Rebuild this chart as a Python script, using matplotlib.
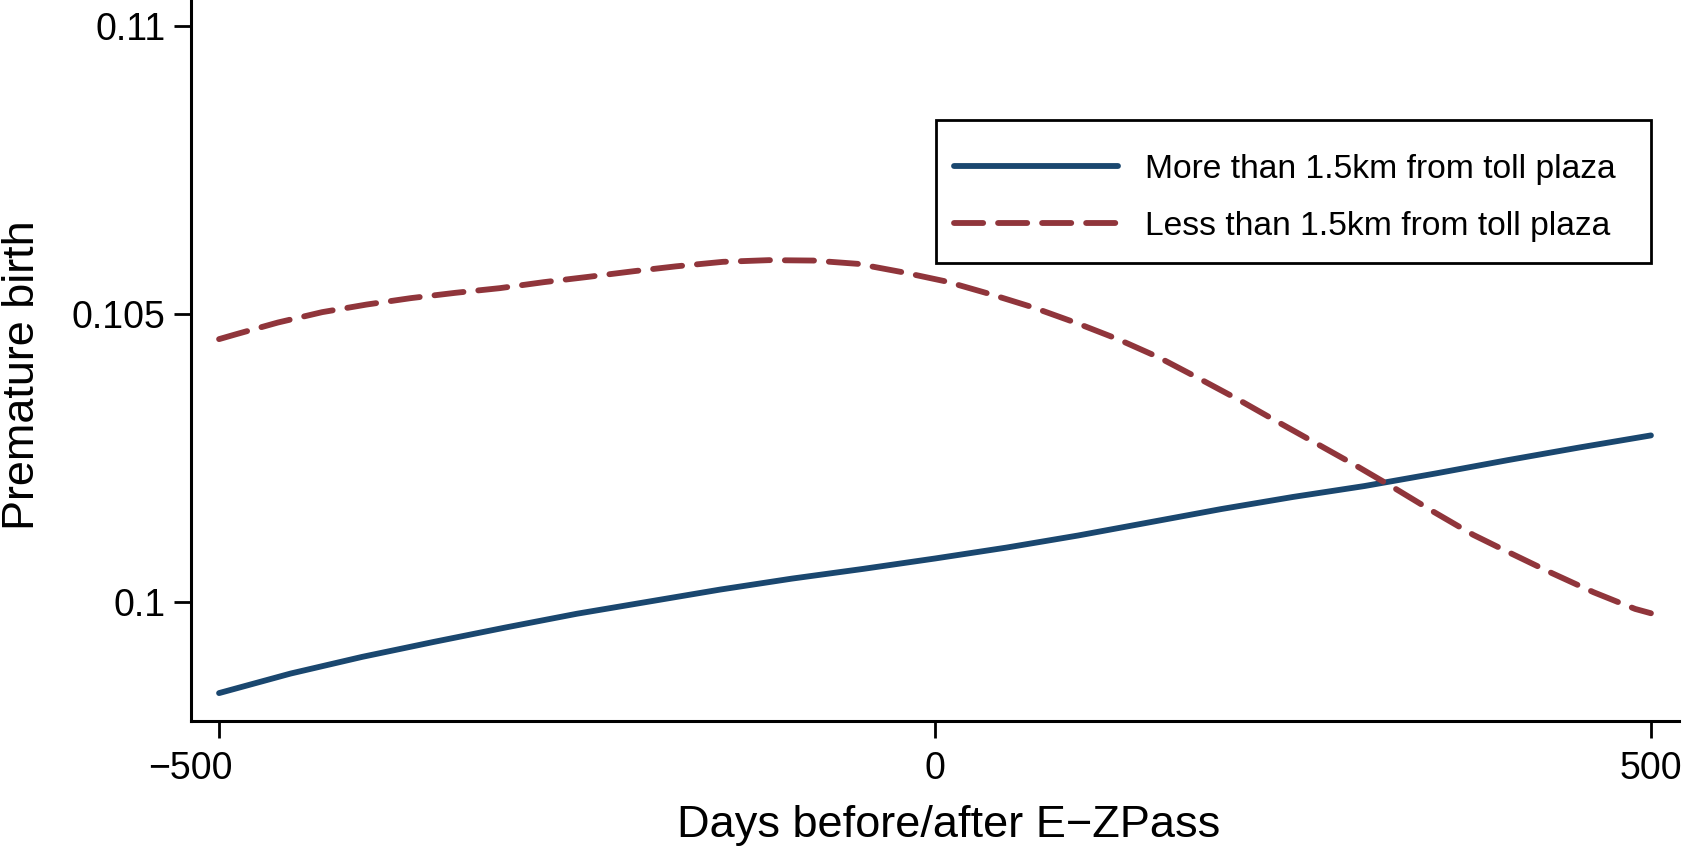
import matplotlib
matplotlib.use("Agg")
import matplotlib.pyplot as plt
from matplotlib.patches import Rectangle
from matplotlib.transforms import ScaledTranslation

plt.rcParams["font.family"] = ["Liberation Sans", "DejaVu Sans"]

# Premature birth rate by days relative to E-ZPass adoption
days_far = [-500, -450, -400, -350, -300, -250, -200, -150, -100, -50, 0,
            50, 100, 150, 200, 250, 300, 350, 400, 450, 500]
far = [0.09841, 0.09875, 0.09904, 0.09930, 0.09955, 0.09979, 0.10000,
       0.10021, 0.10040, 0.10057, 0.10075, 0.10094, 0.10115, 0.10138,
       0.10161, 0.10182, 0.10201, 0.10223, 0.10246, 0.10268, 0.10289]

days_near = [-500, -488, -459, -428, -397, -366, -335, -304, -273, -242,
             -210, -181, -148, -116, -85, -54, -23, 8, 38, 68, 98, 127,
             156, 184, 211, 239, 266, 294, 321, 348, 376, 403, 431, 460,
             489, 500]
near = [0.104564, 0.104650, 0.104852, 0.105033, 0.105165, 0.105277,
        0.105369, 0.105450, 0.105555, 0.105647, 0.105746, 0.105829,
        0.105908, 0.105937, 0.105930, 0.105873, 0.105729, 0.105565,
        0.105351, 0.105120, 0.104852, 0.104571, 0.104250, 0.103885,
        0.103525, 0.103130, 0.102755, 0.102365, 0.101972, 0.101565,
        0.101160, 0.100830, 0.100494, 0.100163, 0.099873, 0.099798]

series_labels = ["More than 1.5km from toll plaza",
                 "Less than 1.5km from toll plaza"]
x_ticks = [-500, 0, 500]
x_tick_labels = ["\u2212500", "0", "500"]
y_ticks = [0.1, 0.105, 0.11]
y_tick_labels = ["0.1", "0.105", "0.11"]

NAVY = "#1a476f"
MAROON = "#90353b"

W, H = 1685, 847
fig = plt.figure(figsize=(W / 100, H / 100), dpi=100)
ax = fig.add_axes([191 / W, 1 - 720.7 / H, (1679 - 191) / W, 720.7 / H])

line_far, = ax.plot(days_far, far, color=NAVY, lw=4.2,
                    solid_capstyle="round", solid_joinstyle="round",
                    label=series_labels[0])
line_near, = ax.plot(days_near, near, color=MAROON, lw=4.2,
                     dashes=(5.0, 2.55), dash_capstyle="round",
                     dash_joinstyle="round", label=series_labels[1])

ax.set_xlim(-519.6, 519.6)
ax.set_ylim(0.09793, 0.11046)

for side in ("top", "right"):
    ax.spines[side].set_visible(False)
for side in ("left", "bottom"):
    ax.spines[side].set_linewidth(2.2)
    ax.spines[side].set_color("black")

ax.set_xticks(x_ticks)
ax.set_xticklabels(x_tick_labels)
ax.set_yticks(y_ticks)
ax.set_yticklabels(y_tick_labels)
ax.tick_params(axis="both", length=12.5, width=2, labelsize=27, color="black")
ax.tick_params(axis="x", pad=9)
ax.tick_params(axis="y", pad=6)

# nudge the leftmost x label so its digits sit over the tick
lab0 = ax.get_xticklabels()[0]
lab0.set_transform(lab0.get_transform() +
                   ScaledTranslation(-29 / 100, 0, fig.dpi_scale_trans))

fig.text(23 / W, 1 - 375 / H, "Premature birth", rotation=90,
         ha="center", va="center", fontsize=32.4)
fig.text(949 / W, 1 - 837 / H, "Days before/after E\u2212ZPass",
         ha="center", va="baseline", fontsize=32.5)

# legend box
box = Rectangle((936 / W, 1 - 262.7 / H), (1651 - 936) / W,
                (262.7 - 120) / H, transform=fig.transFigure,
                facecolor="white", edgecolor="black", lw=2, zorder=4)
fig.add_artist(box)

leg = fig.legend(handles=[line_far, line_near], labels=series_labels,
                 loc="center left",
                 bbox_to_anchor=(954 / W, 1 - 197.8 / H),
                 bbox_transform=fig.transFigure,
                 borderaxespad=0, borderpad=0, fontsize=24.2,
                 handlelength=4.87, handletextpad=0.8, labelspacing=0.76,
                 frameon=False)
leg.set_zorder(5)

fig.savefig("out.png", dpi=100)
